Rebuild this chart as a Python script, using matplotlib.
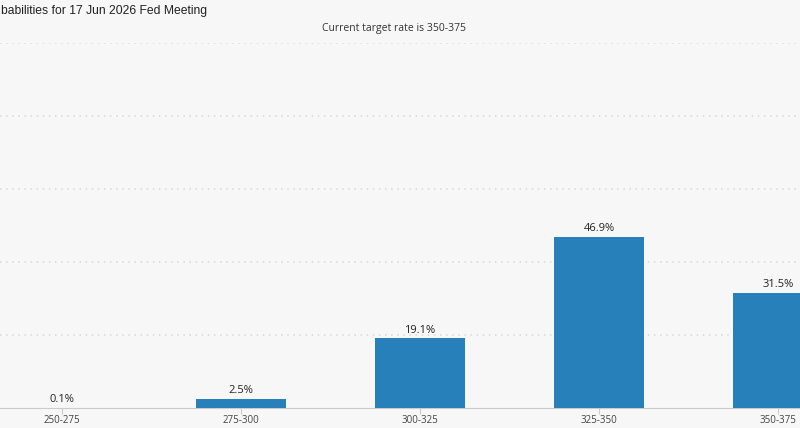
import matplotlib
matplotlib.use("Agg")
import matplotlib.pyplot as plt

# target rate buckets (bps) and probabilities (%)
ranges = ["250-275", "275-300", "300-325", "325-350", "350-375"]
probs = [0.1, 2.5, 19.1, 46.9, 31.5]
prob_labels = ["0.1%", "2.5%", "19.1%", "46.9%", "31.5%"]

bg = "#f7f7f7"
bar_color = "#2780b9"

fig = plt.figure(figsize=(8, 4.28), dpi=100, facecolor=bg)
ax = fig.add_axes([0, 20 / 428, 1, 365 / 428], facecolor=bg)

x = list(range(len(ranges)))
ax.bar(x, probs, width=0.508, color=bar_color, zorder=3)

for xi, p, lab in zip(x, probs, prob_labels):
    ax.annotate(lab, (xi, p), xytext=(0, 2), textcoords="offset points",
                ha="center", va="bottom", fontsize=8, color="#222",
                family="Open Sans", zorder=4)

ax.set_xlim(-62 / 179, 738 / 179)
ax.set_ylim(0, 100)
ax.set_yticks([20, 40, 60, 80, 100])
ax.yaxis.grid(True, linestyle=(0, (1, 3)), color="#d8d8d8", linewidth=1.1)
ax.tick_params(axis="y", left=False, labelleft=False)

ax.set_xticks(x)
ax.set_xticklabels(ranges, family="Open Sans", fontsize=7, color="#444")
ax.tick_params(axis="x", length=4, color="#cccccc", pad=1)

for s in ["top", "left", "right"]:
    ax.spines[s].set_visible(False)
ax.spines["bottom"].set_color("#cccccc")

fig.text(1 / 800, 1 - 11 / 428, "babilities for 17 Jun 2026 Fed Meeting",
         ha="left", va="center", fontsize=8.7, color="#222",
         family="Liberation Sans")
fig.text(394 / 800, 1 - 28 / 428, "Current target rate is 350-375",
         ha="center", va="center", fontsize=7.5, color="#333",
         family="Open Sans")

fig.savefig("out.png", dpi=100, facecolor=bg)
